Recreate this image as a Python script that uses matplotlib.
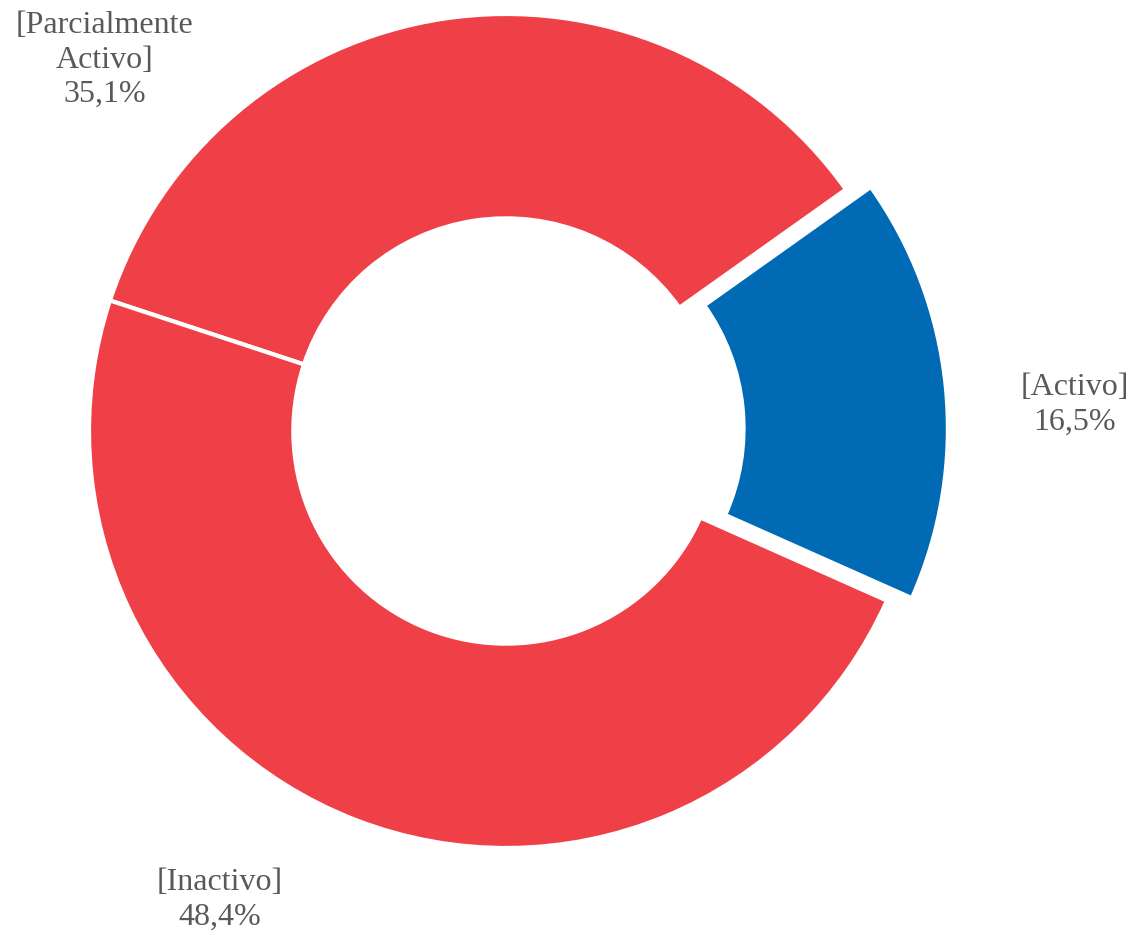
import matplotlib.pyplot as plt

# share of each activity level
categories = ['Activo', 'Parcialmente\nActivo', 'Inactivo']
shares = [16.5, 35.1, 48.4]
colors = ['#006AB5', '#EF3F47', '#EF3F47']
explode_frac = [0.06, 0, 0]

W, H = 1137, 935
fig = plt.figure(figsize=(W / 100, H / 100), dpi=100)
ax = fig.add_axes([0, 0, 1, 1])

cx, cy, r = 506, 504, 417
# pie() offsets wedges in data units, so scale the fractions by the radius
ax.pie(shares, colors=colors, explode=[e * r for e in explode_frac],
       startangle=-24.0, counterclock=True, radius=r, center=(cx, cy),
       wedgeprops=dict(width=0.49 * r, edgecolor='white', linewidth=3))
ax.set_xlim(0, W)
ax.set_ylim(0, H)
ax.set_aspect('equal')
ax.axis('off')

def fmt(v):
    return f'{v:.1f}'.replace('.', ',') + '%'

label_pos = [(1075, 530), (105, 875), (220, 35)]
for cat, v, (x, y) in zip(categories, shares, label_pos):
    ax.text(x, y, f'[{cat}]\n{fmt(v)}', ha='center', va='center',
            fontsize=23, family='Liberation Serif', color='#595959',
            linespacing=1.25)

fig.savefig('out.png', dpi=100)
